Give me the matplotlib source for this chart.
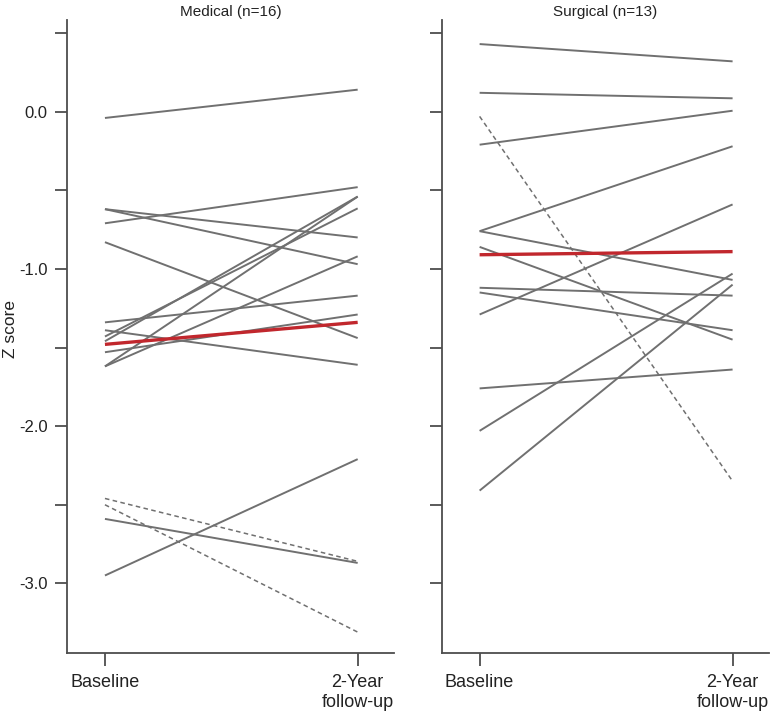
import matplotlib
matplotlib.use("Agg")
import matplotlib.pyplot as plt
import numpy as np

plt.rcParams["font.family"] = ["Liberation Sans", "DejaVu Sans"]

# Time points
timepoints = ["Baseline", "2-Year\nfollow-up"]

# Medical group (n=16): individual Z scores
medical_baseline = [-0.04, -0.62, -0.62, -0.71, -0.83, -1.34, -1.39, -1.43,
                    -1.46, -1.53, -1.62, -1.62, -2.59, -2.95, -2.46, -2.50]
medical_followup = [0.14, -0.80, -0.97, -0.48, -1.44, -1.17, -1.61, -0.615,
                    -0.54, -1.29, -0.54, -0.92, -2.87, -2.21, -2.86, -3.31]
medical_dashed = [False] * 14 + [True, True]
medical_mean = [-1.48, -1.34]

# Surgical group (n=13)
surgical_baseline = [0.43, 0.12, -0.21, -0.03, -0.76, -0.76, -0.86, -1.12,
                     -1.15, -1.29, -1.76, -2.03, -2.41]
surgical_followup = [0.32, 0.085, 0.006, -2.35, -0.22, -1.07, -1.45, -1.17,
                     -1.39, -0.59, -1.64, -1.03, -1.10]
surgical_dashed = [False, False, False, True] + [False] * 9
surgical_mean = [-0.91, -0.89]

panels = [
    ("Medical (n=16)", medical_baseline, medical_followup, medical_dashed, medical_mean),
    ("Surgical (n=13)", surgical_baseline, surgical_followup, surgical_dashed, surgical_mean),
]

GRAY = "#707070"
RED = "#c1272d"
AXIS = "#4d4d4d"
TXT = "#222222"

fig = plt.figure(figsize=(7.75, 7.17), dpi=100, facecolor="white")
axes_rects = [
    [0.0865, 0.0888, 0.4223, 0.8833],
    [0.5699, 0.0888, 0.4227, 0.8833],
]

x = np.arange(len(timepoints))
yticks = np.arange(-3.0, 0.51, 0.5)

for k, (title, base, follow, dashed, mean) in enumerate(panels):
    ax = fig.add_axes(axes_rects[k])
    for b, f, d in zip(base, follow, dashed):
        if d:
            ax.plot(x, [b, f], color=GRAY, linewidth=1.1, linestyle=(0, (3, 2.2)),
                    zorder=2)
        else:
            ax.plot(x, [b, f], color=GRAY, linewidth=1.4, zorder=2,
                    solid_capstyle="butt")
    ax.plot(x, mean, color=RED, linewidth=2.4, zorder=3, solid_capstyle="butt")

    ax.set_xlim(-0.15, 1.145)
    ax.set_ylim(-3.445, 0.583)
    for side in ("top", "right"):
        ax.spines[side].set_visible(False)
    for side in ("left", "bottom"):
        ax.spines[side].set_color(AXIS)
        ax.spines[side].set_linewidth(1.3)

    ax.set_xticks(x)
    ax.set_xticklabels(timepoints, fontsize=13, color=TXT)
    ax.set_yticks(yticks)
    if k == 0:
        ax.set_yticklabels([f"{v:.1f}" if v == int(v) else "" for v in yticks],
                           fontsize=12, color=TXT)
        ax.set_ylabel("Z score", fontsize=12.5, color=TXT)
        ax.yaxis.set_label_coords(-0.15, 0.512)
    else:
        ax.set_yticklabels([])
    ax.tick_params(axis="both", length=9, width=1.3, color=AXIS, direction="out")
    ax.tick_params(axis="y", pad=5)
    ax.tick_params(axis="x", pad=6)
    ax.set_title(title, fontsize=11, pad=3, color=TXT)

fig.savefig("out.png", dpi=100, facecolor="white")
